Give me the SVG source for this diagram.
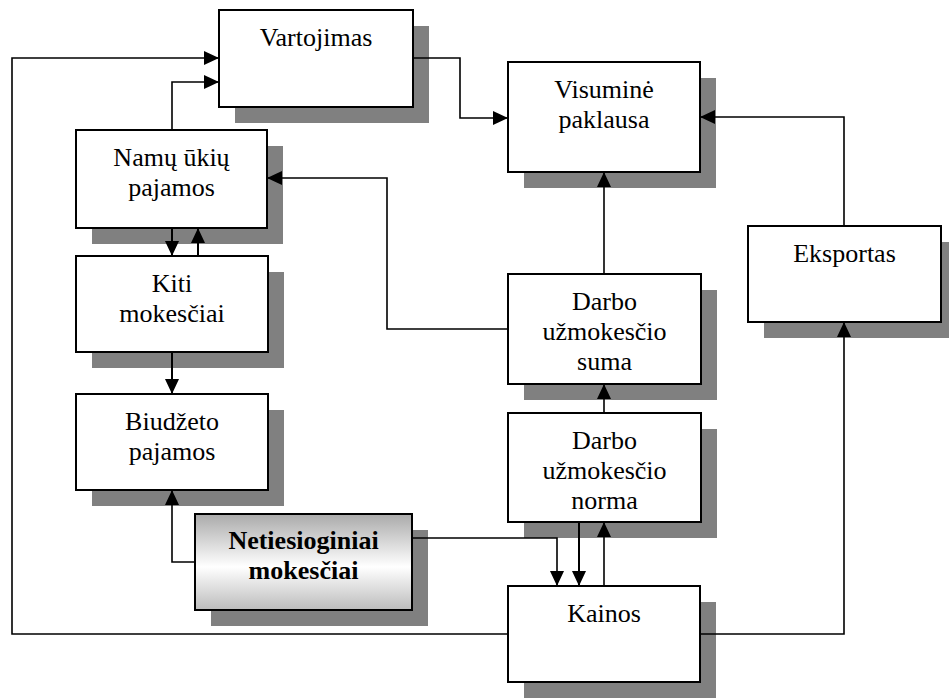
<svg xmlns="http://www.w3.org/2000/svg" width="949" height="698" viewBox="0 0 949 698">
<defs>
<style>
.sh{fill:#808080}
.bx{fill:#fff;stroke:#000;stroke-width:2}
.t{font-family:"Liberation Serif","Times New Roman",serif;font-size:26px;text-anchor:middle;fill:#000}
.b{font-weight:bold}
.c{fill:none;stroke:#000;stroke-width:1.6}
.a{marker-end:url(#arr)}
</style>
<marker id="arr" markerUnits="userSpaceOnUse" markerWidth="15" markerHeight="14" refX="15" refY="7" orient="auto">
<path d="M0,0 L15,7 L0,14 z" fill="#000"/>
</marker>
<linearGradient id="g" x1="0" y1="0" x2="0" y2="1">
<stop offset="0" stop-color="#aaaaaa"/>
<stop offset="0.55" stop-color="#ffffff"/>
<stop offset="1" stop-color="#bcbcbc"/>
</linearGradient>
</defs>
<rect width="949" height="698" fill="#fff"/>

<g id="vartojimas">
<rect class="sh" x="235" y="26" width="194" height="97"/>
<rect class="bx" x="219" y="10" width="194" height="97"/>
<text class="t" x="316" y="46">Vartojimas</text>
</g>
<g id="visumine">
<rect class="sh" x="524" y="78" width="192" height="110"/>
<rect class="bx" x="508" y="62" width="192" height="110"/>
<text class="t" x="604" y="98">Visuminė</text>
<text class="t" x="604" y="128">paklausa</text>
</g>
<g id="namu">
<rect class="sh" x="92" y="146" width="191" height="98"/>
<rect class="bx" x="76" y="130" width="191" height="98"/>
<text class="t" x="171.5" y="166">Namų ūkių</text>
<text class="t" x="171.5" y="196">pajamos</text>
</g>
<g id="kiti">
<rect class="sh" x="92" y="272" width="192" height="96"/>
<rect class="bx" x="76" y="256" width="192" height="96"/>
<text class="t" x="172" y="292">Kiti</text>
<text class="t" x="172" y="322">mokesčiai</text>
</g>
<g id="biudzeto">
<rect class="sh" x="92" y="410" width="192" height="96"/>
<rect class="bx" x="76" y="394" width="192" height="96"/>
<text class="t" x="172" y="430">Biudžeto</text>
<text class="t" x="172" y="460">pajamos</text>
</g>
<g id="netiesioginiai">
<rect class="sh" x="211" y="530" width="217" height="96"/>
<rect class="bx" x="195" y="514" width="217" height="96" style="fill:url(#g)"/>
<text class="t b" x="303.5" y="549">Netiesioginiai</text>
<text class="t b" x="303.5" y="579">mokesčiai</text>
</g>
<g id="darbo_suma">
<rect class="sh" x="524" y="290" width="193" height="110"/>
<rect class="bx" x="508" y="274" width="193" height="110"/>
<text class="t" x="604.5" y="310">Darbo</text>
<text class="t" x="604.5" y="340">užmokesčio</text>
<text class="t" x="604.5" y="370">suma</text>
</g>
<g id="darbo_norma">
<rect class="sh" x="524" y="429" width="193" height="109"/>
<rect class="bx" x="508" y="413" width="193" height="109"/>
<text class="t" x="604.5" y="449">Darbo</text>
<text class="t" x="604.5" y="479">užmokesčio</text>
<text class="t" x="604.5" y="509">norma</text>
</g>
<g id="kainos">
<rect class="sh" x="524" y="602" width="192" height="96"/>
<rect class="bx" x="508" y="586" width="192" height="96"/>
<text class="t" x="604" y="622">Kainos</text>
</g>
<g id="eksportas">
<rect class="sh" x="764" y="242" width="193" height="96"/>
<rect class="bx" x="748" y="226" width="193" height="96"/>
<text class="t" x="844.5" y="262">Eksportas</text>
</g>

<g id="connectors">
<path class="c a" d="M508,634 H12 V58 H219"/>
<path class="c a" d="M172,130 V82 H219"/>
<path class="c a" d="M413,58 H460 V118 H508"/>
<path class="c a" d="M844,226 V117 H700"/>
<path class="c a" d="M604,274 V172"/>
<path class="c a" d="M508,329 H387 V178 H267"/>
<path class="c a" d="M172,228 V256" style="stroke-width:2"/>
<path class="c a" d="M198,256 V228" style="stroke-width:2"/>
<path class="c a" d="M172,352 V394" style="stroke-width:2"/>
<path class="c a" d="M195,562 H172 V490"/>
<path class="c a" d="M412,538 H557 V586"/>
<path class="c a" d="M579,522 V586" style="stroke-width:2"/>
<path class="c a" d="M604,586 V522"/>
<path class="c a" d="M604,413 V384"/>
<path class="c a" d="M700,634 H844 V322"/>
</g>
</svg>
